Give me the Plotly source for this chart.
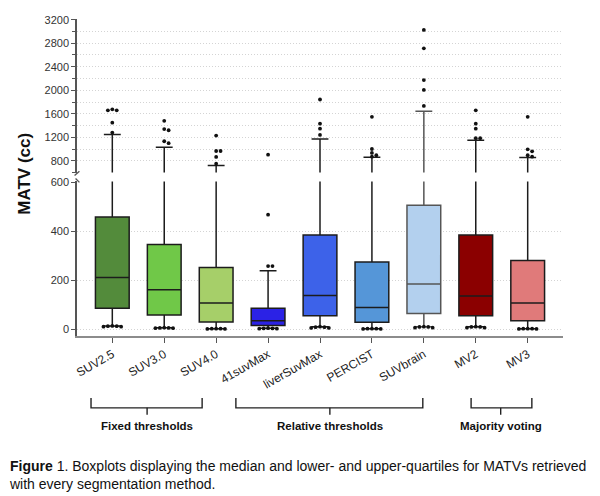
import plotly.graph_objects as go

# values
methods = ["SUV2.5", "SUV3.0", "SUV4.0", "41suvMax", "liverSuvMax",
           "PERCIST", "SUVbrain", "MV2", "MV3"]
q1 = [85, 58, 29, 15, 55, 28, 64, 55, 34]
median = [211, 161, 107, 34, 138, 89, 185, 136, 107]
q3 = [459, 346, 252, 85, 385, 275, 507, 385, 281]
lower_fence = [13, 6, 2, 4, 10, 2, 10, 10, 2]
upper_fence = [1247, 1029, 721, 239, 1173, 862, 1642, 1151, 856]
high_points = [
    [1659, 1659, 1676, 1448, 1280],
    [1481, 1320, 1340, 1100, 1133],
    [1230, 967, 967, 867, 750],
    [905, 468, 258, 258],
    [1843, 1431, 1347, 1240],
    [1548, 1001, 934, 895, 870],
    [3027, 2714, 2173, 2006, 1733],
    [1659, 1431, 1347, 1185, 1185],
    [1548, 996, 962, 895, 870],
]
low_points = [
    [10, 12, 13, 12, 10],
    [4, 5, 6, 5, 4],
    [1, 2, 2, 2, 1],
    [2, 3, 4, 3, 2],
    [5, 8, 10, 8, 5],
    [1, 2, 2, 2, 1],
    [6, 9, 10, 9, 6],
    [6, 9, 10, 9, 6],
    [1, 2, 2, 2, 1],
]
colors = ["#538b3b", "#70c848", "#a6cf69", "#2b22e6", "#3d62e9",
          "#5596d8", "#b3d0ee", "#8b0000", "#e07a7a"]
groups = [("Fixed thresholds", -0.41, 1.73, 0.67),
          ("Relative thresholds", 2.38, 5.98, 4.19),
          ("Majority voting", 6.91, 8.08, 7.48)]

BREAK = 600
LOW_RANGE = [-28, 604]
HIGH_RANGE = [600, 3212]
LOW_DOM = [0, 0.4876]
HIGH_DOM = [0.5155, 1]
PLOT_H = 322
PX_PER_CAT = 52


def px_per_unit(v):
    if v < BREAK:
        return PLOT_H * (LOW_DOM[1] - LOW_DOM[0]) / (LOW_RANGE[1] - LOW_RANGE[0])
    return PLOT_H * (HIGH_DOM[1] - HIGH_DOM[0]) / (HIGH_RANGE[1] - HIGH_RANGE[0])


def swarm(values, center, step=0.085, dist=3.5):
    # simple beeswarm so that overlapping dots sit side by side
    placed = []
    for v in sorted(values, reverse=True):
        k = 0
        while True:
            off = ((k + 1) // 2) * step * (1 if k % 2 else -1) if k else 0
            ok = True
            for (px, pv) in placed:
                dx = (off - px) * PX_PER_CAT
                dy = (v - pv) * px_per_unit(v)
                if (dx * dx + dy * dy) ** 0.5 < dist:
                    ok = False
                    break
            if ok:
                placed.append((off, v))
                break
            k += 1
    return [(center + o, v) for o, v in placed]


fig = go.Figure()

for i, m in enumerate(methods):
    lc = "#555555" if m == "SUVbrain" else "#1c1c1c"
    for ax in ["y", "y2"]:
        fig.add_trace(go.Box(
            x=[i], q1=[q1[i]], median=[median[i]], q3=[q3[i]],
            lowerfence=[lower_fence[i]], upperfence=[upper_fence[i]],
            width=0.65, whiskerwidth=0.5, boxpoints=False,
            fillcolor=colors[i], line=dict(color=lc, width=1.5),
            yaxis=ax, showlegend=False, name=m,
        ))

lx, ly, hx, hy = [], [], [], []
for i in range(len(methods)):
    for x, v in swarm(high_points[i] + low_points[i], i):
        if v < BREAK:
            lx.append(x)
            ly.append(v)
        else:
            hx.append(x)
            hy.append(v)

dot = dict(color="#111111", size=3.8)
fig.add_trace(go.Scatter(x=lx, y=ly, mode="markers", marker=dot,
                         yaxis="y", showlegend=False))
fig.add_trace(go.Scatter(x=hx, y=hy, mode="markers", marker=dot,
                         yaxis="y2", showlegend=False))

GRID_COLOR = "#d4d4d4"
GRID_DASH = "1px,2px"
yax = dict(showline=True, linecolor="#555555", linewidth=1.5, ticks="outside",
           ticklen=4, tickcolor="#555555", zeroline=False,
           tickfont=dict(family="Arial, Liberation Sans", size=11, color="#333333"),
           showgrid=True, gridcolor=GRID_COLOR, griddash=GRID_DASH, gridwidth=1)

shapes = []
# axis break marks
shapes.append(dict(type="line", xref="paper", yref="paper",
                   x0=-0.005, y0=0.5062, x1=0.005, y1=0.5200,
                   line=dict(color="#555555", width=1.3)))
shapes.append(dict(type="line", xref="paper", yref="paper",
                   x0=-0.003, y0=0.4970, x1=0.005, y1=0.4845,
                   line=dict(color="#555555", width=1.3)))

annotations = []
yb0, yb1, yb2 = -0.1957, -0.2267, -0.2484
for label, a, b, c in groups:
    shapes.append(dict(type="path", xref="x", yref="paper",
                       path=f"M {a},{yb0} L {a},{yb1} L {b},{yb1} L {b},{yb0}",
                       line=dict(color="#222222", width=1.4)))
    shapes.append(dict(type="line", xref="x", yref="paper",
                       x0=c, x1=c, y0=yb1, y1=yb2,
                       line=dict(color="#222222", width=1.4)))
    annotations.append(dict(text=f"<b>{label}</b>", xref="x", yref="paper",
                            x=c, y=-0.285, showarrow=False,
                            xanchor="center", yanchor="middle",
                            font=dict(family="Arial, Liberation Sans", size=11.5,
                                      color="#111111")))

annotations.append(dict(text="<b>MATV (cc)</b>", xref="paper", yref="paper",
                        x=-0.107, y=0.512, textangle=-90, showarrow=False,
                        xanchor="center", yanchor="middle",
                        font=dict(family="Arial, Liberation Sans", size=17,
                                  color="#111111")))
annotations.append(dict(
    text="<b>Figure</b> 1. Boxplots displaying the median and lower- and "
         "upper-quartiles for MATVs retrieved<br>with every segmentation method.",
    xref="paper", yref="paper", x=-0.144, y=-0.438, showarrow=False,
    xanchor="left", yanchor="middle", align="left",
    font=dict(family="Arial, Liberation Sans", size=14, color="#111111")))

# the page body adds an 8px offset, so the figure is 8px smaller
fig.update_layout(
    width=592, height=488,
    margin=dict(l=69, r=37, t=6, b=160),
    paper_bgcolor="white", plot_bgcolor="white",
    xaxis=dict(range=[-0.68, 8.68], tickvals=list(range(len(methods))),
               ticktext=methods, tickangle=-30, showline=True,
               linecolor="#8c8c8c", linewidth=1.5, ticks="outside", ticklen=5,
               tickcolor="#555555", showgrid=False, zeroline=False,
               tickfont=dict(family="Arial, Liberation Sans", size=12,
                             color="#222222")),
    yaxis=dict(domain=LOW_DOM, range=LOW_RANGE, tick0=0, dtick=200, **yax),
    yaxis2=dict(domain=HIGH_DOM, range=HIGH_RANGE, tick0=0, dtick=400,
                anchor="x",
                minor=dict(dtick=200, ticks="outside", ticklen=3,
                           tickcolor="#555555", showgrid=True,
                           gridcolor=GRID_COLOR, griddash=GRID_DASH),
                **yax),
    shapes=shapes,
    annotations=annotations,
)

fig.write_html("out.html")
